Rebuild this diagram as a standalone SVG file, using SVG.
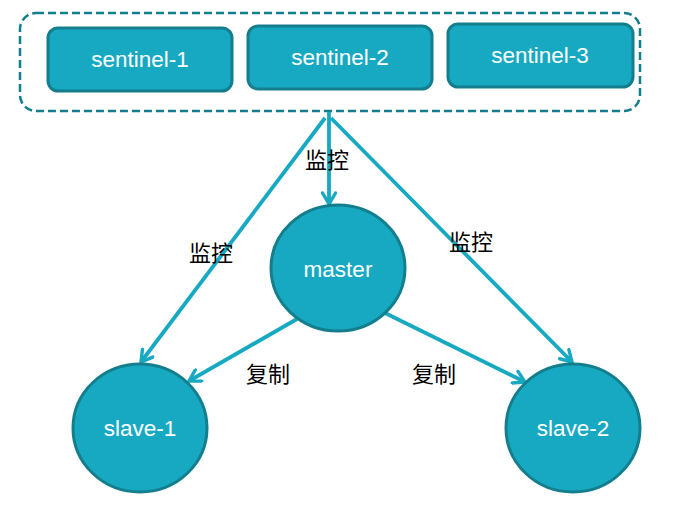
<svg xmlns="http://www.w3.org/2000/svg" width="699" height="509" viewBox="0 0 699 509">
<style>
.box{fill:#17A9C2;stroke:#147E8D;stroke-width:3}
.node{fill:#17A9C2;stroke:#147E8D;stroke-width:3}
.lbl{fill:#FFFFFF;font-family:"Liberation Sans",Arial,sans-serif;font-size:22.5px;text-anchor:middle}
.cn{fill:#000000;font-family:"Noto Sans CJK SC",sans-serif;font-size:22px;text-anchor:start}
.edge{stroke:#17A9C2;stroke-width:3.8;fill:none;marker-end:url(#arr)}
</style>
<defs>
<marker id="arr" markerUnits="userSpaceOnUse" markerWidth="16" markerHeight="16" viewBox="0 0 16 16" refX="13" refY="8" orient="auto">
<path d="M2,1.5 L13,8 L2,14.5" fill="none" stroke="#17A9C2" stroke-width="3.4" stroke-linecap="round" stroke-linejoin="miter"/>
</marker>
</defs>
<rect width="699" height="509" fill="#FFFFFF"/>
<g id="sentinel-group">
<rect x="20" y="13" width="620" height="98" rx="16" fill="none" stroke="#137E8C" stroke-width="2.5" stroke-dasharray="8,4"/>
</g>
<g id="connectors">
<line class="edge" x1="329" y1="112" x2="329" y2="204"/>
<line class="edge" x1="325" y1="118" x2="141" y2="362"/>
<line class="edge" x1="331" y1="118" x2="572" y2="362"/>
<line class="edge" x1="297" y1="319" x2="189" y2="381"/>
<line class="edge" x1="385" y1="313" x2="525" y2="382"/>
<text class="cn" x="305" y="168">监控</text>
<text class="cn" x="189" y="261">监控</text>
<text class="cn" x="449" y="250">监控</text>
<text class="cn" x="246" y="382">复制</text>
<text class="cn" x="412" y="382">复制</text>
</g>
<g id="sentinel-1">
<rect class="box" x="48" y="28" width="184" height="63" rx="10"/>
<text class="lbl" x="140" y="67">sentinel-1</text>
</g>
<g id="sentinel-2">
<rect class="box" x="248" y="26" width="184" height="63" rx="10"/>
<text class="lbl" x="340" y="65">sentinel-2</text>
</g>
<g id="sentinel-3">
<rect class="box" x="448" y="24" width="185" height="63" rx="10"/>
<text class="lbl" x="540" y="63">sentinel-3</text>
</g>
<g id="master">
<ellipse class="node" cx="338" cy="268" rx="67" ry="63"/>
<text class="lbl" x="338" y="277">master</text>
</g>
<g id="slave-1">
<ellipse class="node" cx="140" cy="428" rx="67" ry="64"/>
<text class="lbl" x="140" y="436">slave-1</text>
</g>
<g id="slave-2">
<ellipse class="node" cx="573" cy="428" rx="67" ry="64"/>
<text class="lbl" x="573" y="436">slave-2</text>
</g>
</svg>
